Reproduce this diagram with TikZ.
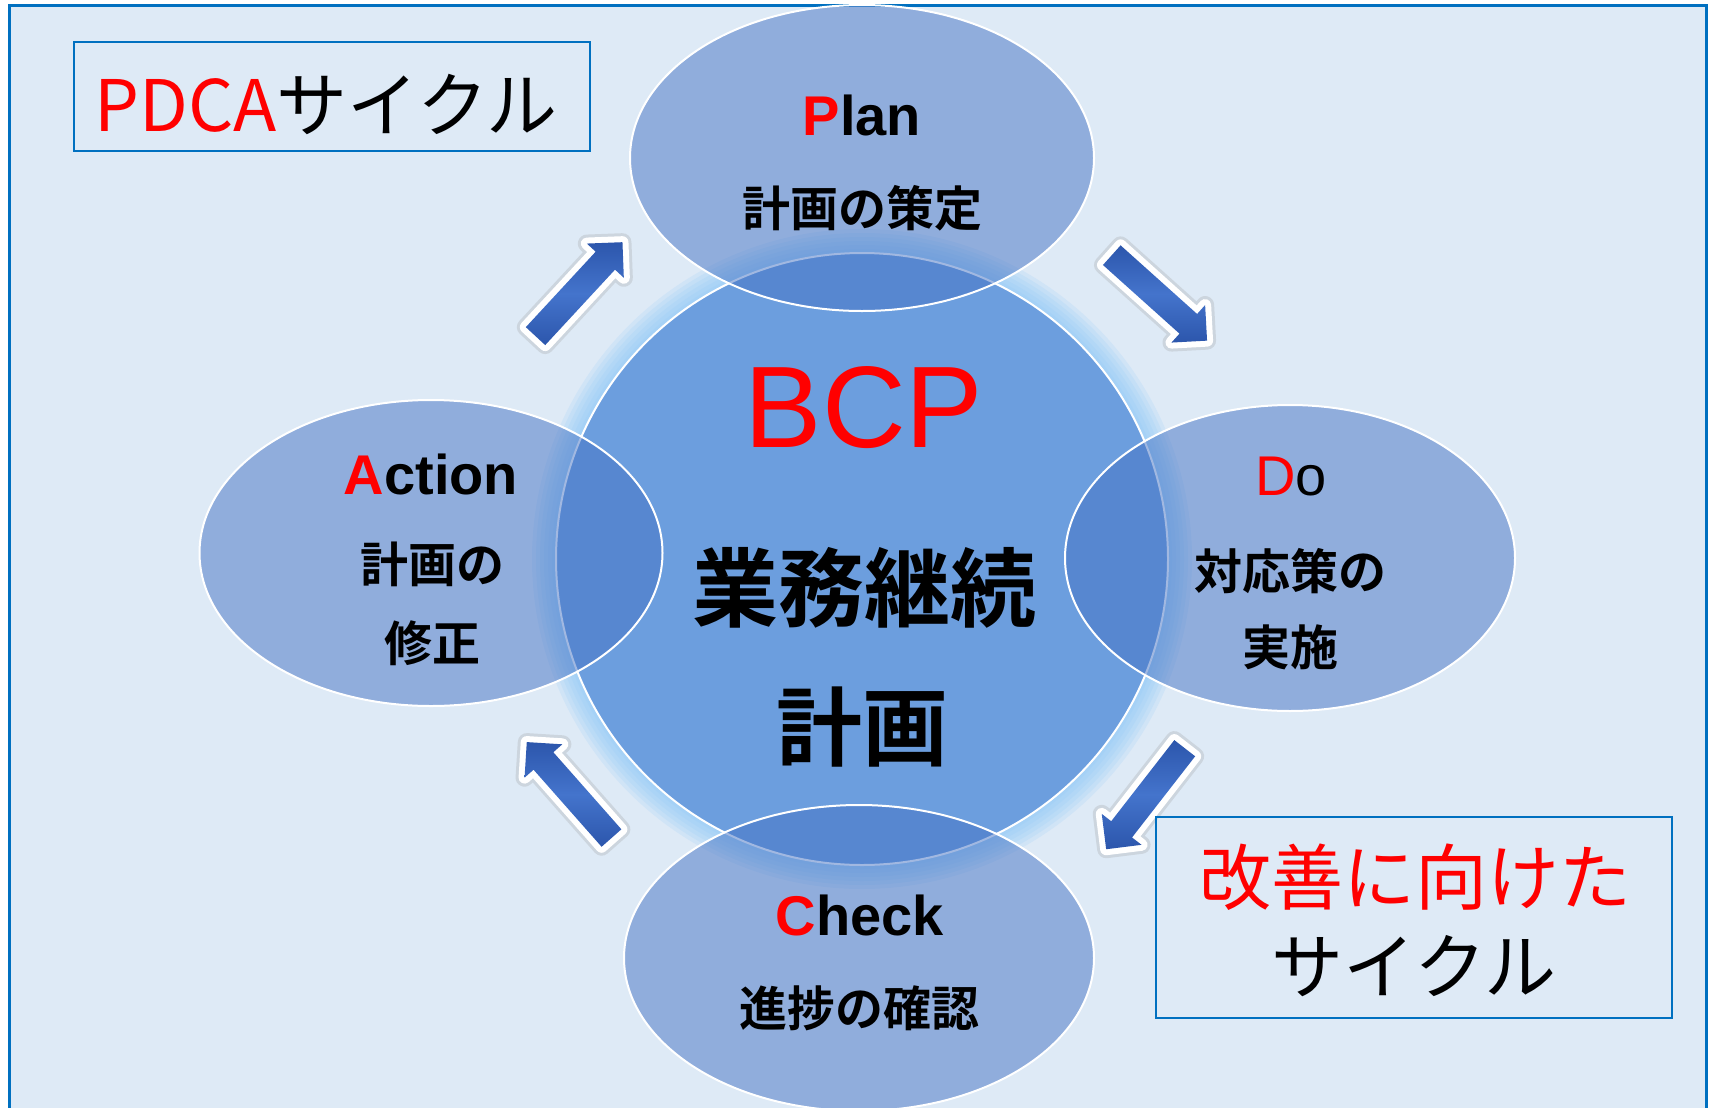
\documentclass[tikz,border=0pt]{standalone}
\usepackage{fontspec}
\usetikzlibrary{shapes.geometric,shapes.arrows}
\newfontfamily\jp[BoldFont={Noto Sans CJK JP Bold}]{Noto Sans CJK JP}
\newfontfamily\lat{Liberation Sans}
\definecolor{bgc}{RGB}{222,234,246}
\definecolor{framec}{RGB}{0,112,192}
\definecolor{ellc}{RGB}{68,114,196}
\definecolor{circc}{RGB}{108,158,222}
\definecolor{glowc}{RGB}{140,200,250}
\definecolor{arrc}{RGB}{68,116,204}
\definecolor{arrd}{RGB}{44,86,172}
\tikzset{
  ellnode/.style={ellipse, fill=ellc, fill opacity=0.5, draw=white, line width=1pt, minimum height=153pt, inner sep=0pt},
  latb/.style={font=\lat\bfseries\fontsize{28}{30}\selectfont, anchor=base, inner sep=0pt},
  latr/.style={font=\lat\fontsize{28}{30}\selectfont, anchor=base, inner sep=0pt},
  jpm/.style={font=\jp\bfseries\fontsize{24}{26}\selectfont, inner sep=0pt},
  jpbig/.style={font=\jp\bfseries\fontsize{43}{45}\selectfont, inner sep=0pt},
  jpbox/.style={font=\jp\fontsize{36}{38}\selectfont, inner sep=0pt},
  tbox/.style={draw=framec, line width=1pt, minimum width=258pt, inner sep=0pt},
  blockarrow/.style={single arrow, single arrow head extend=6pt,
    minimum height=64pt, inner xsep=0pt, inner ysep=6.4pt, sloped, allow upside down, line join=round,
    preaction={draw=black!40, draw opacity=0.25, line width=9pt},
    preaction={draw=white, line width=6pt},
    top color=arrd, bottom color=arrd, middle color=arrc}
}
\begin{document}
\begin{tikzpicture}[x=0.5pt,y=-0.5pt]
\useasboundingbox (0,0) rectangle (1713,1108);
\clip (0,0) rectangle (1713,1108);
\fill[white] (0,0) rectangle (1713,1108);
\draw[fill=bgc, draw=framec, line width=1.5pt] (9,5) rectangle (1706,1140);

% glow around the central circle
\foreach \w in {24pt,20pt,16pt,12pt,8pt,4pt}
  \draw[glowc, line width=\w, opacity=0.17] (862,559) circle (153pt);

\node[circle, fill=circc, draw=white, line width=1pt, minimum size=306pt, inner sep=0pt] (core) at (862,559) {};

% ellipses
\node[ellnode, minimum width=232pt] (plan) at (862,158) {};
\node[ellnode, minimum width=225pt] (do) at (1290,558) {};
\node[ellnode, minimum width=235pt] (check) at (859,958) {};
\node[ellnode, minimum width=231.5pt] (act) at (431,553) {};

% arrows
\coordinate (a1t) at (531,341);  \coordinate (a1h) at (618,247);
\coordinate (a2t) at (1106,250); \coordinate (a2h) at (1203,337);
\coordinate (a3t) at (1188,744); \coordinate (a3h) at (1111,843);
\coordinate (a4t) at (615,842);  \coordinate (a4h) at (532,748);
\path (a1t) -- node[blockarrow] (arr1) {} (a1h);
\path (a2t) -- node[blockarrow] (arr2) {} (a2h);
\path (a3t) -- node[blockarrow] (arr3) {} (a3h);
\path (a4t) -- node[blockarrow] (arr4) {} (a4h);

% boxes
\node[tbox, minimum height=54.5pt] (pdcabox) at (332,96.5) {};
\node[font=\jp\fontsize{35.5}{37}\selectfont, inner sep=0pt] (pdcat) at (326,104) {\textcolor{red}{PDCA}サイクル};
\node[tbox, minimum height=100.5pt] (kzbox) at (1414,917.5) {};
\node[jpbox, text=red] (kz1) at (1415,877) {改善に向けた};
\node[jpbox] (kz2) at (1414,966) {サイクル};

% texts
\node[latb] (plant) at (862,135) {\textcolor{red}{P}lan};
\node[jpm] (plans) at (862,208) {計画の策定};
\node[font=\lat\fontsize{58}{60}\selectfont, text=red, anchor=base, inner sep=0pt] (bcpt) at (864,447) {BCP};
\node[jpbig] (bcps1) at (864,588) {業務継続};
\node[jpbig] (bcps2) at (862,727) {計画};
\node[latr] (dot) at (1291,495) {\textcolor{red}{D}o};
\node[jpm] (dos1) at (1290,571) {対応策の};
\node[jpm] (dos2) at (1290,647) {実施};
\node[latb] (checkt) at (860,935) {\textcolor{red}{C}heck};
\node[jpm] (checks) at (859,1008) {進捗の確認};
\node[latb] (actt) at (431,494) {\textcolor{red}{A}ction};
\node[jpm] (acts1) at (432,564) {計画の};
\node[jpm] (acts2) at (432,643) {修正};
\end{tikzpicture}
\end{document}
